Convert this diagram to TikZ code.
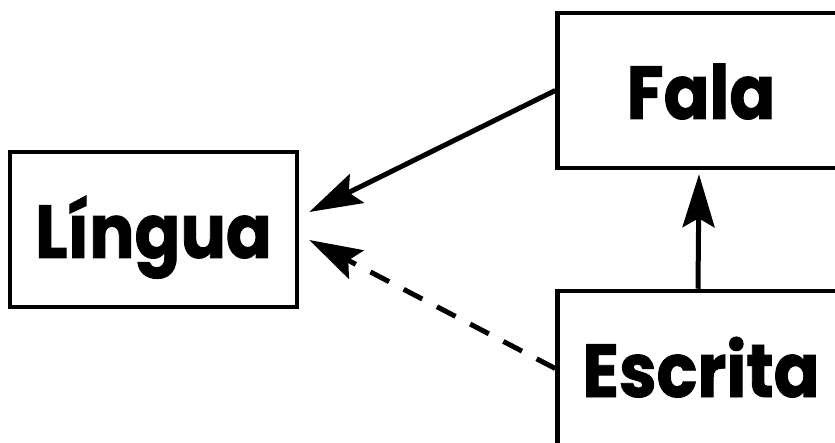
\documentclass[tikz,border=0pt]{standalone}
\usepackage{fontspec}
\setmainfont{Poppins}[BoldFeatures={FakeStretch=0.9,FakeBold=1.2}]
\usetikzlibrary{arrows.meta,calc}
\begin{document}
\begin{tikzpicture}[x=1pt,y=-1pt,
  box/.style={draw=black,line width=4.5pt,minimum width=287pt,minimum height=155pt,
    inner sep=0pt,text height=57pt,text depth=0pt,font=\fontsize{75}{80}\selectfont\bfseries},
  conn/.style={line width=5pt,-{Stealth[length=53pt,width=32pt,inset=9pt]}},
  dashconn/.style={conn,dash pattern=on 21pt off 16.5pt}]
\useasboundingbox (0,0) rectangle (835,443);
\begin{scope}
\clip (0,0) rectangle (835,443);
\node[box] (Lingua) at (153.5,229.5) {Língua};
\node[box] (Fala) at (701,90.5) {Fala};
\node[box] (Escrita) at (701,368.5) {Escrita};
\coordinate (tipA) at ($(Lingua.east)+(10,-17.5)$);
\coordinate (tipB) at ($(Lingua.east)+(10,10.5)$);
\coordinate (tipC) at ($(Fala.south)+(-2,4)$);
\coordinate (baseC) at ($(Escrita.north)+(-3,0)$);
\draw[conn] (Fala.west) -- (tipA);
\draw[dashconn] (Escrita.west) -- (tipB);
\draw[conn] (baseC) -- (tipC);
\end{scope}
\end{tikzpicture}
\end{document}
